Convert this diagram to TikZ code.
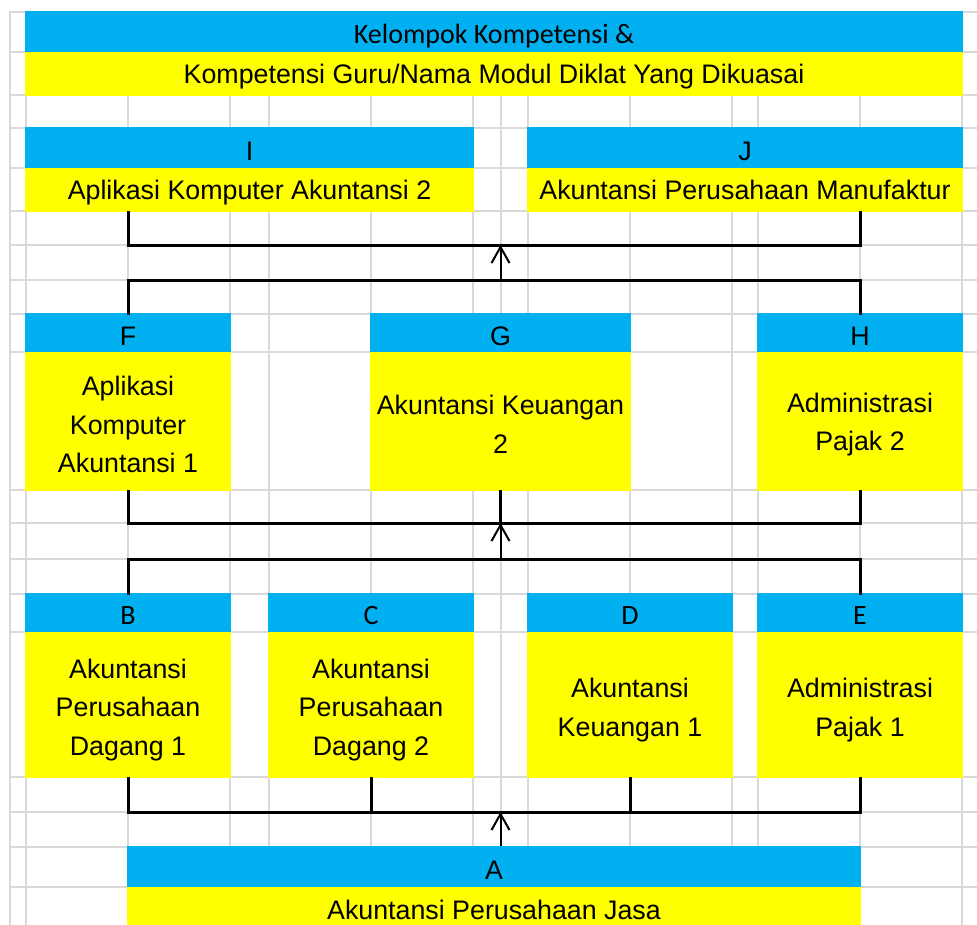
\documentclass[tikz,border=0pt]{standalone}
\usepackage{fontspec}
\setmainfont{Liberation Sans}
\newfontfamily\calib{Carlito}
\usetikzlibrary{arrows.meta}
\definecolor{xblue}{HTML}{00B0F0}
\definecolor{xyellow}{HTML}{FFFF00}
\definecolor{xgrid}{HTML}{D9D9D9}
\begin{document}
\begin{tikzpicture}[x=1pt,y=-1pt,
  gridline/.style={xgrid, line width=2pt, line cap=rect},
  cell/.style={inner sep=0pt, outer sep=0pt, anchor=north west, align=center},
  bluecell/.style={cell, fill=xblue},
  yelcell/.style={cell, fill=xyellow},
  arialtxt/.style={font=\fontsize{26.8pt}{38.5pt}\selectfont},
  calibtxt/.style={font=\calib\fontsize{28pt}{34pt}\selectfont},
  letterA/.style={arialtxt, text height=25pt, text depth=0pt},
  letterC/.style={calibtxt, text height=24pt, text depth=0pt},
  lineone/.style={arialtxt, text height=19pt, text depth=0pt},
  multitxt/.style={arialtxt, inner sep=0pt, align=center},
  conn/.style={black, line width=3pt, line cap=rect, line join=miter},
  arr/.style={black, line width=2pt, -{Straight Barb[length=16pt,width=18pt]}},
]
\useasboundingbox (0,0) rectangle (977,924);
\clip (0,0) rectangle (977,924);
\fill[white] (0,0) rectangle (977,924);

% spreadsheet grid
\foreach \x in {10,26,128,230,269,371,473,501,528,630,732,758,860,962}
  \draw[gridline] (\x,12) -- (\x,935);
\foreach \y in {12,52,95,128,168,211,245,280,314,352,490,523,559,594,632,777,812,847,887}
  \draw[gridline] (10,\y) -- (985,\y);

% title
\node[bluecell, letterC, minimum width=938pt, minimum height=41pt] (Tb) at (25,11) {Kelompok Kompetensi \&};
\node[yelcell, lineone, minimum width=938pt, minimum height=44pt] (Ty) at (25,52) {Kompetensi Guru/Nama Modul Diklat Yang Dikuasai};

% I, J
\node[bluecell, letterA, minimum width=449pt, minimum height=41pt] (Ib) at (25,127) {I};
\node[yelcell, lineone, minimum width=449pt, minimum height=44pt] (Iy) at (25,168) {Aplikasi Komputer Akuntansi 2};
\node[bluecell, letterA, minimum width=436pt, minimum height=41pt] (Jb) at (527,127) {J};
\node[yelcell, lineone, minimum width=436pt, minimum height=44pt] (Jy) at (527,168) {Akuntansi Perusahaan Manufaktur};

% F, G, H
\node[bluecell, letterA, minimum width=206pt, minimum height=39pt] (Fb) at (25,313) {F};
\node[yelcell, minimum width=206pt, minimum height=139pt] (Fy) at (25,352) {};
\node[multitxt, yshift=-3pt] (Ft) at (Fy.center) {Aplikasi\\Komputer\\Akuntansi 1};
\node[bluecell, letterA, minimum width=261pt, minimum height=39pt] (Gb) at (370,313) {G};
\node[yelcell, minimum width=261pt, minimum height=139pt] (Gy) at (370,352) {};
\node[multitxt, yshift=-3pt] (Gt) at (Gy.center) {Akuntansi Keuangan\\2};
\node[bluecell, letterA, minimum width=206pt, minimum height=39pt] (Hb) at (757,313) {H};
\node[yelcell, minimum width=206pt, minimum height=139pt] (Hy) at (757,352) {};
\node[multitxt, yshift=-3pt] (Ht) at (Hy.center) {Administrasi\\Pajak 2};

% B, C, D, E
\node[bluecell, letterC, minimum width=206pt, minimum height=39pt] (Bb) at (25,593) {B};
\node[yelcell, minimum width=206pt, minimum height=146pt] (By) at (25,632) {};
\node[multitxt, yshift=-5pt] (Bt) at (By.center) {Akuntansi\\Perusahaan\\Dagang 1};
\node[bluecell, letterC, minimum width=206pt, minimum height=39pt] (Cb) at (268,593) {C};
\node[yelcell, minimum width=206pt, minimum height=146pt] (Cy) at (268,632) {};
\node[multitxt, yshift=-5pt] (Ct) at (Cy.center) {Akuntansi\\Perusahaan\\Dagang 2};
\node[bluecell, letterC, minimum width=206pt, minimum height=39pt] (Db) at (527,593) {D};
\node[yelcell, minimum width=206pt, minimum height=146pt] (Dy) at (527,632) {};
\node[multitxt, yshift=-5pt] (Dt) at (Dy.center) {Akuntansi\\Keuangan 1};
\node[bluecell, letterC, minimum width=206pt, minimum height=39pt] (Eb) at (757,593) {E};
\node[yelcell, minimum width=206pt, minimum height=146pt] (Ey) at (757,632) {};
\node[multitxt, yshift=-5pt] (Et) at (Ey.center) {Administrasi\\Pajak 1};

% A
\node[bluecell, letterA, minimum width=734pt, minimum height=41pt] (Ab) at (127,846) {A};
\node[yelcell, lineone, minimum width=734pt, minimum height=45pt] (Ay) at (127,887) {Akuntansi Perusahaan Jasa};

% bus levels
\coordinate (bus1) at (0,245);
\coordinate (bus2) at (0,280);
\coordinate (bus3) at (0,523);
\coordinate (bus4) at (0,559);
\coordinate (bus5) at (0,812);

% connectors top
\draw[conn] (Iy.south -| Fb.north) -- (Fb.north |- bus1) -- (Hb.north |- bus1) -- (Jy.south -| Hb.north);
\draw[conn] (Fb.north) -- (Fb.north |- bus2) -- (Hb.north |- bus2) -- (Hb.north);
\draw[arr] (Gb.north |- bus2) -- (Gb.north |- bus1);

% connectors middle
\draw[conn] (Fy.south) -- (Fy.south |- bus3) -- (Hy.south |- bus3) -- (Hy.south);
\draw[conn] (Gy.south) -- (Gy.south |- bus3);
\draw[conn] (Bb.north) -- (Bb.north |- bus4) -- (Eb.north |- bus4) -- (Eb.north);
\draw[arr] (Gb.north |- bus4) -- (Gb.north |- bus3);

% connectors bottom
\draw[conn] (By.south) -- (By.south |- bus5) -- (Ey.south |- bus5) -- (Ey.south);
\draw[conn] (Cy.south) -- (Cy.south |- bus5);
\draw[conn] (Dy.south) -- (Dy.south |- bus5);
\draw[arr] (Gb.north |- Ab.north) -- (Gb.north |- bus5);
\end{tikzpicture}
\end{document}
